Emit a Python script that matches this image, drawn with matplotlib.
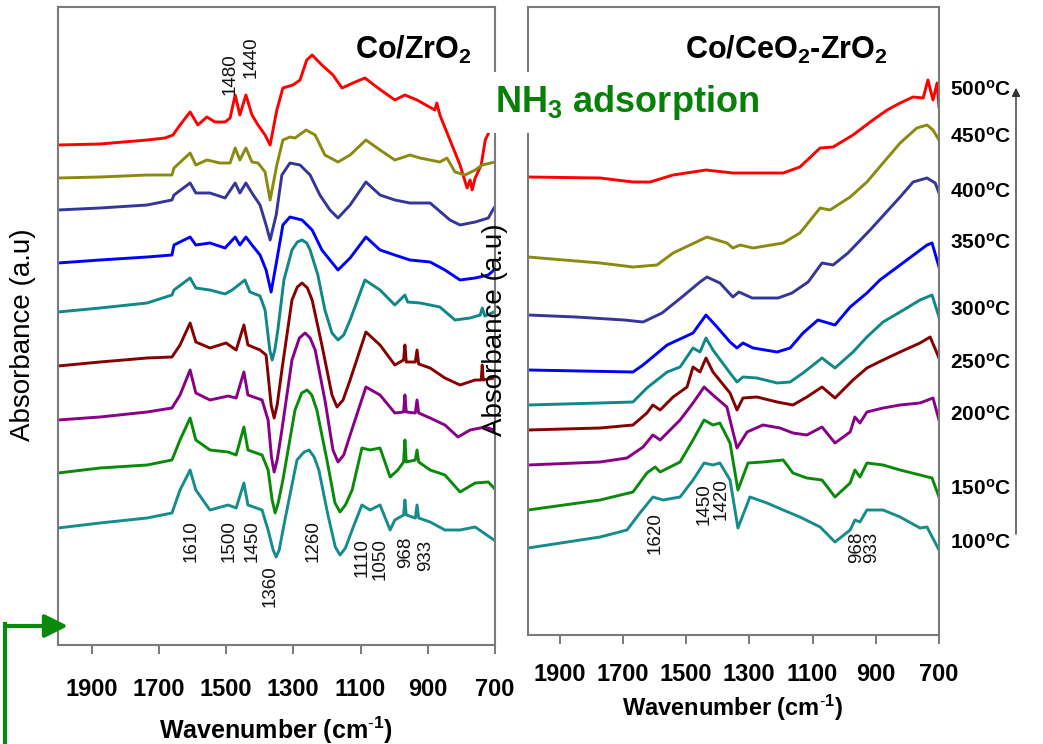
import matplotlib
matplotlib.use('Agg')
import matplotlib.pyplot as plt
from matplotlib.transforms import blended_transform_factory
from matplotlib.lines import Line2D
from matplotlib.patches import FancyArrowPatch

plt.rcParams['font.family'] = ['Liberation Sans', 'DejaVu Sans']
plt.rcParams['mathtext.fontset'] = 'custom'
plt.rcParams['mathtext.rm'] = 'Liberation Sans'
plt.rcParams['mathtext.bf'] = 'Liberation Sans:bold'
plt.rcParams['mathtext.it'] = 'Liberation Sans:italic'

''' data : (wavenumber cm-1, absorbance a.u.) '''
temps = ['500', '450', '400', '350', '300', '250', '200', '150', '100']
colors = ['#ff0000', '#8a8a10', '#35359a', '#0000ff', '#108888',
          '#850000', '#880088', '#0a8a0a', '#168c8c']
ticks = [1900, 1700, 1500, 1300, 1100, 900, 700]

# Co/ZrO2
zr_500 = [(2000, 5.00), (1875, 5.01), (1735, 5.05), (1682, 5.07), (1658, 5.10), (1637, 5.20),
          (1607, 5.33), (1584, 5.20), (1557, 5.28), (1533, 5.23), (1503, 5.23), (1488, 5.27),
          (1473, 5.50), (1459, 5.30), (1441, 5.50), (1423, 5.30), (1405, 5.20), (1384, 5.10),
          (1369, 5.00), (1349, 5.35), (1331, 5.57), (1301, 5.60), (1280, 5.65), (1260, 5.85),
          (1244, 5.90), (1215, 5.80), (1182, 5.70), (1155, 5.57), (1116, 5.63), (1087, 5.67),
          (1048, 5.57), (998, 5.45), (968, 5.50), (932, 5.45), (879, 5.35), (873, 5.42),
          (864, 5.30), (834, 5.05), (804, 4.80), (783, 4.57), (774, 4.65), (768, 4.55),
          (759, 4.67), (741, 4.80), (729, 5.05), (715, 5.15), (709, 5.20)]
zr_450 = [(2000, 4.67), (1875, 4.68), (1735, 4.70), (1661, 4.70), (1655, 4.77), (1607, 4.92),
          (1590, 4.80), (1557, 4.85), (1518, 4.82), (1488, 4.82), (1473, 4.97), (1459, 4.85),
          (1441, 4.97), (1423, 4.83), (1405, 4.82), (1384, 4.73), (1369, 4.45), (1349, 4.80),
          (1331, 5.05), (1310, 5.08), (1295, 5.07), (1262, 5.15), (1235, 5.10), (1206, 4.90),
          (1167, 4.83), (1131, 4.90), (1084, 5.05), (1042, 4.95), (998, 4.85), (953, 4.90),
          (923, 4.87), (864, 4.83), (843, 4.87), (819, 4.73), (789, 4.70), (759, 4.75),
          (738, 4.80), (700, 4.83)]
zr_400 = [(2000, 4.35), (1875, 4.37), (1735, 4.40), (1661, 4.45), (1655, 4.50), (1607, 4.62),
          (1590, 4.52), (1548, 4.52), (1503, 4.47), (1473, 4.62), (1459, 4.52), (1441, 4.62),
          (1423, 4.52), (1399, 4.40), (1381, 4.20), (1369, 4.05), (1351, 4.30), (1334, 4.70),
          (1310, 4.82), (1280, 4.80), (1250, 4.70), (1221, 4.50), (1191, 4.35), (1167, 4.27),
          (1131, 4.40), (1084, 4.63), (1042, 4.50), (998, 4.45), (953, 4.42), (893, 4.42),
          (834, 4.25), (804, 4.20), (759, 4.23), (720, 4.27), (703, 4.37)]
zr_350 = [(2000, 3.82), (1875, 3.85), (1735, 3.88), (1661, 3.90), (1655, 4.00), (1607, 4.08),
          (1590, 4.00), (1548, 4.02), (1503, 3.97), (1473, 4.08), (1459, 4.00), (1441, 4.08),
          (1423, 4.00), (1399, 3.90), (1381, 3.75), (1366, 3.53), (1349, 3.85), (1331, 4.20),
          (1310, 4.28), (1274, 4.25), (1244, 4.15), (1215, 3.95), (1167, 3.75), (1131, 3.87),
          (1084, 4.08), (1042, 3.95), (998, 3.90), (953, 3.85), (893, 3.83), (849, 3.75),
          (804, 3.65), (759, 3.67), (720, 3.70), (703, 3.75)]
zr_300 = [(2000, 3.33), (1875, 3.37), (1735, 3.42), (1661, 3.50), (1655, 3.55), (1607, 3.67),
          (1590, 3.57), (1548, 3.55), (1503, 3.51), (1482, 3.55), (1444, 3.65), (1429, 3.53),
          (1399, 3.49), (1384, 3.35), (1370, 2.95), (1363, 2.85), (1355, 2.95), (1346, 3.15),
          (1328, 3.65), (1304, 3.95), (1288, 4.03), (1274, 4.05), (1260, 4.02), (1250, 3.95),
          (1227, 3.70), (1206, 3.35), (1185, 3.12), (1167, 3.05), (1150, 3.10), (1131, 3.25),
          (1087, 3.65), (1042, 3.55), (998, 3.40), (968, 3.50), (960, 3.43), (923, 3.42),
          (864, 3.38), (819, 3.25), (774, 3.27), (744, 3.30), (738, 3.37), (730, 3.29),
          (703, 3.33)]
zr_250 = [(2000, 2.79), (1875, 2.83), (1735, 2.87), (1661, 2.88), (1637, 3.00), (1607, 3.22),
          (1590, 3.03), (1548, 2.97), (1500, 3.02), (1470, 2.95), (1447, 3.20), (1435, 3.00),
          (1399, 2.95), (1381, 2.90), (1366, 2.40), (1357, 2.27), (1348, 2.40), (1334, 2.75),
          (1304, 3.45), (1288, 3.58), (1274, 3.62), (1258, 3.57), (1244, 3.45), (1215, 3.00),
          (1185, 2.50), (1170, 2.38), (1152, 2.45), (1131, 2.65), (1084, 3.13), (1042, 3.00),
          (998, 2.80), (972, 2.85), (968, 3.00), (964, 2.83), (937, 2.83), (932, 2.95),
          (927, 2.81), (893, 2.77), (849, 2.67), (804, 2.60), (759, 2.65), (741, 2.65),
          (738, 2.80), (735, 2.65), (703, 2.67)]
zr_200 = [(2000, 2.25), (1875, 2.28), (1735, 2.33), (1661, 2.37), (1637, 2.50), (1607, 2.75),
          (1590, 2.52), (1548, 2.45), (1494, 2.49), (1470, 2.47), (1447, 2.73), (1435, 2.50),
          (1393, 2.45), (1375, 2.25), (1365, 1.88), (1357, 1.73), (1348, 1.85), (1334, 2.15),
          (1304, 2.85), (1282, 3.07), (1265, 3.12), (1250, 3.07), (1235, 2.95), (1206, 2.45),
          (1182, 1.95), (1167, 1.83), (1150, 1.90), (1131, 2.10), (1084, 2.58), (1042, 2.50),
          (998, 2.32), (972, 2.33), (968, 2.50), (964, 2.33), (937, 2.32), (932, 2.45),
          (927, 2.32), (893, 2.27), (849, 2.20), (810, 2.08), (774, 2.15), (729, 2.18),
          (703, 2.15)]
zr_150 = [(2000, 1.72), (1875, 1.77), (1735, 1.80), (1661, 1.85), (1637, 2.05), (1607, 2.27),
          (1590, 2.05), (1548, 1.95), (1494, 1.93), (1470, 1.90), (1447, 2.18), (1435, 1.95),
          (1393, 1.90), (1375, 1.75), (1363, 1.45), (1354, 1.32), (1345, 1.42), (1331, 1.65),
          (1295, 2.35), (1275, 2.52), (1259, 2.55), (1245, 2.50), (1230, 2.35), (1200, 1.85),
          (1176, 1.42), (1161, 1.33), (1145, 1.40), (1125, 1.55), (1096, 1.97), (1072, 1.95),
          (1042, 1.97), (1012, 1.68), (989, 1.75), (972, 1.83), (968, 2.05), (964, 1.83),
          (937, 1.85), (932, 1.95), (927, 1.83), (893, 1.75), (849, 1.70), (804, 1.53),
          (759, 1.62), (720, 1.63), (703, 1.57)]
zr_100 = [(2000, 1.17), (1875, 1.22), (1735, 1.27), (1661, 1.32), (1637, 1.55), (1607, 1.75),
          (1590, 1.55), (1548, 1.35), (1494, 1.40), (1470, 1.37), (1447, 1.62), (1435, 1.40),
          (1393, 1.35), (1375, 1.15), (1360, 0.95), (1351, 0.88), (1342, 0.95), (1325, 1.25),
          (1289, 1.85), (1268, 1.93), (1253, 1.95), (1238, 1.88), (1224, 1.75), (1197, 1.30),
          (1175, 0.98), (1161, 0.90), (1145, 0.97), (1125, 1.15), (1096, 1.40), (1072, 1.35),
          (1042, 1.40), (1012, 1.15), (998, 1.25), (972, 1.30), (968, 1.45), (964, 1.30),
          (937, 1.27), (932, 1.40), (927, 1.27), (893, 1.23), (849, 1.15), (804, 1.15),
          (759, 1.18), (703, 1.05)]

# Co/CeO2-ZrO2
ce_500 = [(2000, 4.58), (1772, 4.57), (1668, 4.53), (1614, 4.53), (1541, 4.60), (1437, 4.65),
          (1352, 4.62), (1288, 4.62), (1193, 4.62), (1140, 4.68), (1076, 4.87), (1035, 4.88),
          (972, 5.00), (909, 5.15), (864, 5.25), (823, 5.32), (782, 5.38), (750, 5.37),
          (735, 5.55), (719, 5.35), (706, 5.52), (700, 5.28)]
ce_450 = [(2000, 3.78), (1772, 3.72), (1668, 3.68), (1592, 3.70), (1541, 3.82), (1434, 3.98),
          (1371, 3.92), (1352, 3.87), (1329, 3.90), (1288, 3.87), (1193, 3.92), (1140, 4.02),
          (1076, 4.27), (1045, 4.25), (981, 4.38), (928, 4.53), (877, 4.72), (823, 4.92),
          (770, 5.07), (738, 5.10), (719, 5.05), (700, 4.95)]
ce_400 = [(2000, 3.20), (1848, 3.18), (1696, 3.15), (1636, 3.13), (1576, 3.22), (1513, 3.38),
          (1456, 3.53), (1434, 3.58), (1393, 3.52), (1352, 3.38), (1333, 3.43), (1291, 3.37),
          (1209, 3.37), (1165, 3.42), (1114, 3.53), (1070, 3.72), (1035, 3.70), (988, 3.82),
          (918, 4.05), (823, 4.38), (782, 4.53), (738, 4.57), (712, 4.52), (700, 4.42)]
ce_350 = [(2000, 2.65), (1668, 2.63), (1636, 2.70), (1560, 2.90), (1478, 3.02), (1437, 3.20),
          (1402, 3.08), (1361, 2.93), (1339, 2.87), (1320, 2.92), (1288, 2.87), (1212, 2.83),
          (1171, 2.87), (1130, 3.02), (1083, 3.15), (1029, 3.10), (981, 3.28), (928, 3.42),
          (887, 3.55), (823, 3.70), (738, 3.90), (722, 3.92), (700, 3.68)]
ce_300 = [(2000, 2.30), (1772, 2.32), (1668, 2.33), (1624, 2.47), (1560, 2.63), (1519, 2.68),
          (1478, 2.87), (1456, 2.83), (1437, 2.97), (1415, 2.85), (1361, 2.62), (1339, 2.53),
          (1320, 2.58), (1276, 2.57), (1212, 2.52), (1171, 2.53), (1130, 2.62), (1070, 2.77),
          (1029, 2.67), (972, 2.83), (928, 2.98), (877, 3.13), (823, 3.23), (760, 3.35),
          (722, 3.40), (700, 3.18)]
ce_250 = [(2000, 2.05), (1772, 2.07), (1668, 2.10), (1624, 2.22), (1605, 2.30), (1582, 2.25),
          (1541, 2.38), (1497, 2.48), (1478, 2.68), (1456, 2.63), (1437, 2.77), (1415, 2.63),
          (1361, 2.42), (1339, 2.25), (1320, 2.37), (1276, 2.38), (1212, 2.33), (1162, 2.30),
          (1118, 2.38), (1070, 2.48), (1029, 2.37), (972, 2.55), (928, 2.67), (877, 2.75),
          (823, 2.83), (760, 2.92), (728, 2.98), (700, 2.77)]
ce_200 = [(2000, 1.70), (1772, 1.73), (1687, 1.77), (1636, 1.88), (1605, 2.00), (1582, 1.95),
          (1519, 2.15), (1478, 2.32), (1443, 2.48), (1415, 2.40), (1371, 2.28), (1339, 1.87),
          (1307, 2.03), (1257, 2.10), (1203, 2.07), (1162, 2.02), (1118, 2.00), (1070, 2.08),
          (1029, 1.92), (981, 2.03), (966, 2.18), (950, 2.12), (928, 2.23), (877, 2.27),
          (823, 2.30), (760, 2.32), (719, 2.37), (700, 2.15)]
ce_150 = [(2000, 1.25), (1772, 1.35), (1668, 1.43), (1624, 1.62), (1598, 1.68), (1582, 1.63),
          (1519, 1.73), (1478, 1.95), (1443, 2.15), (1415, 2.10), (1393, 2.12), (1361, 1.92),
          (1336, 1.45), (1304, 1.72), (1257, 1.73), (1193, 1.75), (1162, 1.62), (1118, 1.57),
          (1070, 1.55), (1029, 1.38), (981, 1.52), (966, 1.65), (950, 1.58), (928, 1.72),
          (877, 1.70), (823, 1.65), (760, 1.60), (722, 1.57), (700, 1.38)]
ce_100 = [(2000, 0.87), (1772, 0.98), (1687, 1.05), (1646, 1.22), (1605, 1.38), (1573, 1.35),
          (1519, 1.38), (1478, 1.55), (1443, 1.72), (1415, 1.70), (1393, 1.72), (1361, 1.55),
          (1336, 1.07), (1298, 1.38), (1244, 1.32), (1193, 1.25), (1140, 1.18), (1076, 1.08),
          (1029, 0.93), (981, 1.05), (966, 1.15), (950, 1.13), (928, 1.25), (877, 1.25),
          (823, 1.18), (760, 1.07), (738, 1.08), (700, 0.85)]

zr_spectra = [zr_500, zr_450, zr_400, zr_350, zr_300, zr_250, zr_200, zr_150, zr_100]
ce_spectra = [ce_500, ce_450, ce_400, ce_350, ce_300, ce_250, ce_200, ce_150, ce_100]

# band labels : (text, wavenumber, absorbance, vertical anchor)
zr_bands = [('1480', 1488, 5.50, 'bottom'), ('1440', 1426, 5.67, 'bottom'),
            ('1610', 1604, 1.25, 'top'), ('1500', 1491, 1.25, 'top'), ('1450', 1423, 1.25, 'top'),
            ('1360', 1369, 0.80, 'top'), ('1260', 1241, 1.25, 'top'), ('1110', 1096, 1.07, 'top'),
            ('1050', 1042, 1.07, 'top'), ('968', 965, 1.08, 'top'), ('933', 905, 1.05, 'top')]
ce_bands = [('1620', 1598, 1.23, 'top'), ('1450', 1443, 1.52, 'top'), ('1420', 1390, 1.57, 'top'),
            ('968', 961, 1.03, 'top'), ('933', 913, 1.03, 'top')]
temp_pos = [5.45, 4.98, 4.43, 3.92, 3.25, 2.72, 2.20, 1.46, 0.92]

W, H = 1043, 744
fig = plt.figure(figsize=(W / 100, H / 100), dpi=100)
ax1 = fig.add_axes([58 / W, 1 - 645 / H, 437 / W, 638 / H])
ax2 = fig.add_axes([528 / W, 1 - 635 / H, 411 / W, 628 / H])

spine_c = '#7a7a7a'
for ax, spectra, bands, ytop, pad in [(ax1, zr_spectra, zr_bands, 6.38, 17),
                                      (ax2, ce_spectra, ce_bands, 6.28, 14)]:
    for spec, c in zip(spectra, colors):
        w = [p[0] for p in spec]
        a = [p[1] for p in spec]
        ax.plot(w, a, color=c, lw=2.1, solid_joinstyle='round')
    for txt, w, a, va in bands:
        ax.text(w, a, txt, rotation=90, ha='center', va=va, fontsize=13.5, color='#111111')
    ax.set_xlim(2000, 700)
    ax.set_ylim(0, ytop)
    ax.set_xticks(ticks)
    ax.set_xticklabels([str(t) for t in ticks], fontsize=17, fontweight='bold')
    ax.tick_params(axis='x', direction='out', length=6.5, width=1.4, color=spine_c, pad=pad)
    ax.tick_params(axis='y', left=False, labelleft=False)
    for s in ax.spines.values():
        s.set_color(spine_c)
        s.set_linewidth(1.5)

# temperature labels
tr = blended_transform_factory(ax2.transAxes, ax2.transData)
for t, y in zip(temps, temp_pos):
    ax2.text(1.027, y, t + r'$^{\mathbf{o}}$C', transform=tr, fontsize=15, fontweight='bold',
             ha='left', va='center', clip_on=False)

fig.text(413 / W, 1 - 50 / H, r'Co/ZrO$_{\mathbf{2}}$', fontsize=22, fontweight='bold',
         ha='center', va='center')
fig.text(786 / W, 1 - 50 / H, r'Co/CeO$_{\mathbf{2}}$-ZrO$_{\mathbf{2}}$', fontsize=22,
         fontweight='bold', ha='center', va='center')
fig.text(495 / W, 1 - 112 / H, r'NH$_{\mathbf{3}}$ adsorption', fontsize=26, fontweight='bold',
         color='#068006', ha='left', va='baseline',
         bbox=dict(boxstyle='square,pad=0.3', fc='white', ec='none'), zorder=10)

xlab = r'Wavenumber (cm$^{\mathbf{\text{-}1}}$)'
fig.text(276 / W, 1 - 730 / H, xlab, fontsize=18, fontweight='bold', ha='center', va='center')
fig.text(733 / W, 1 - 708 / H, xlab, fontsize=17, fontweight='bold', ha='center', va='center')
fig.text(23 / W, 1 - 335 / H, 'Absorbance (a.u)', fontsize=20, rotation=90,
         ha='center', va='center')
fig.text(495 / W, 1 - 330 / H, 'Absorbance (a.u)', fontsize=20, rotation=90,
         ha='center', va='center', zorder=10)

# temperature arrow on the right
fig.add_artist(FancyArrowPatch((1016 / W, 1 - 537 / H), (1016 / W, 1 - 85 / H),
                               transform=fig.transFigure, arrowstyle='-|>,head_length=5,head_width=2.5',
                               color='#333333', lw=1.0, mutation_scale=1))
# green corner arrow
fig.add_artist(Line2D([5 / W, 5 / W], [0, 1 - 624 / H], transform=fig.transFigure,
                      color='#0a8a0a', lw=3))
fig.add_artist(FancyArrowPatch((5 / W, 1 - 626 / H), (68 / W, 1 - 626 / H),
                               transform=fig.transFigure, arrowstyle='-|>,head_length=14,head_width=7',
                               color='#0a8a0a', lw=3, mutation_scale=1, shrinkA=0, shrinkB=0))

fig.savefig('out.png', dpi=100)
